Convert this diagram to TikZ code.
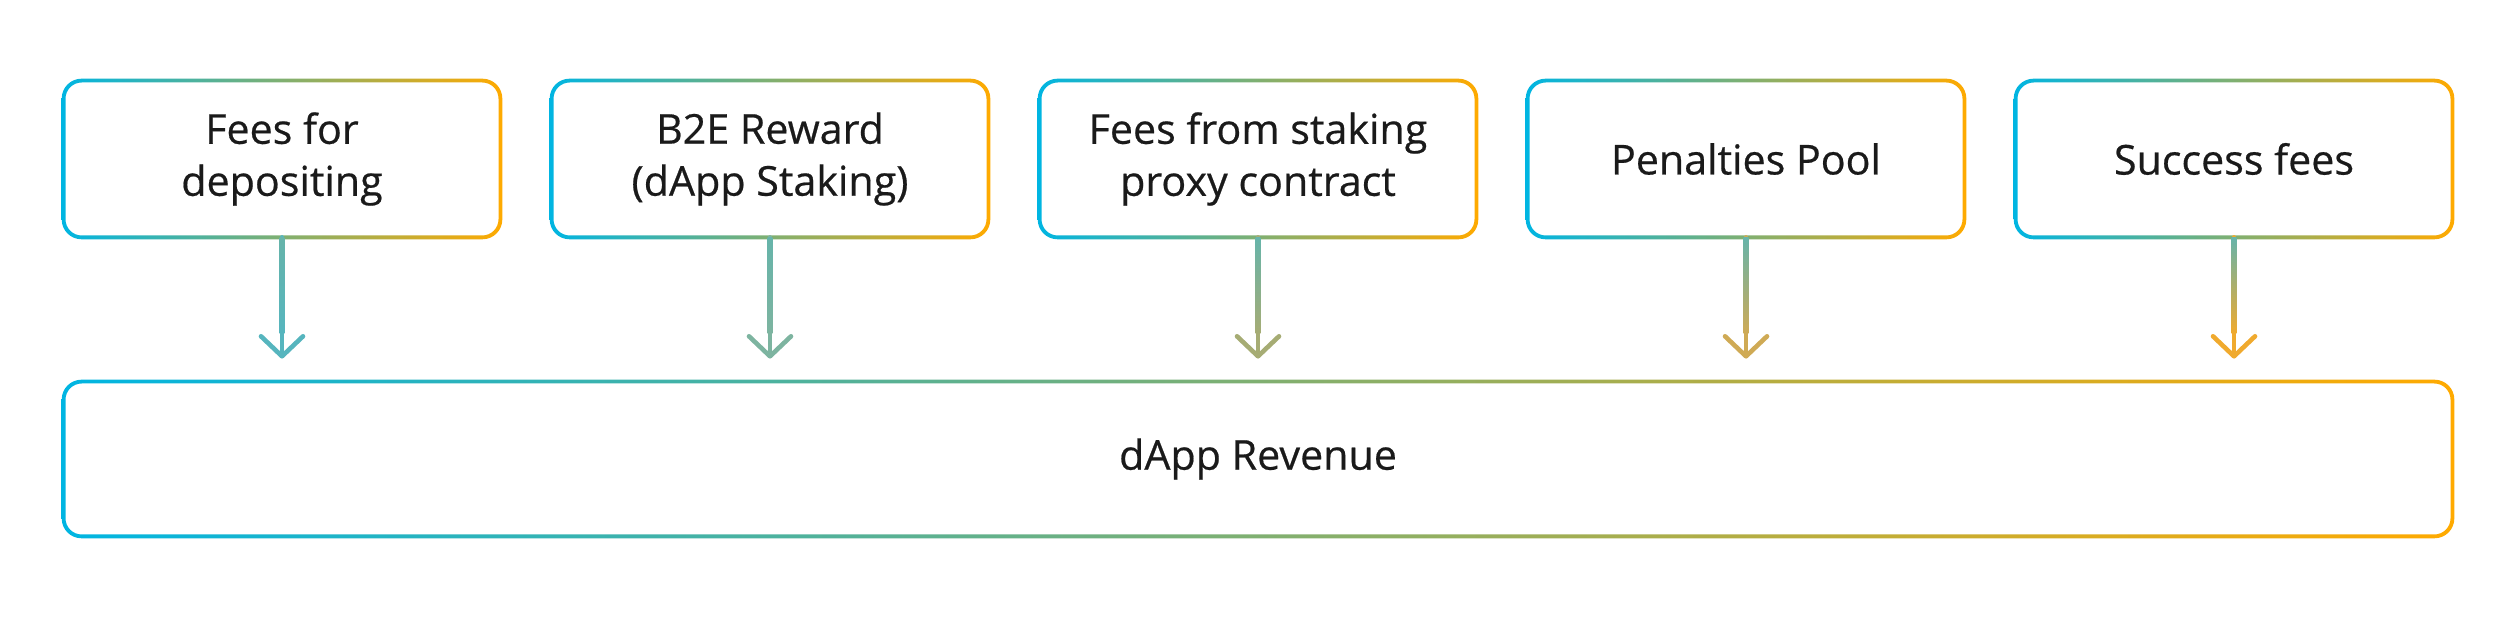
\documentclass[tikz,border=0pt]{standalone}
\usepackage{fontspec}
\setmainfont{Open Sans}[FakeBold=0.5]
\usetikzlibrary{arrows.meta}
\definecolor{dcyan}{HTML}{00B5E2}
\definecolor{dorange}{HTML}{FFAA00}
\definecolor{dteal}{HTML}{66B4AA}
\definecolor{dtext}{HTML}{1A1A1A}
\definecolor{tipa}{HTML}{56B5BE}
\definecolor{tipb}{HTML}{7DB4A0}
\definecolor{tipc}{HTML}{A6AC74}
\definecolor{tipd}{HTML}{CFAA55}
\definecolor{tipe}{HTML}{F0AA2E}
\begin{document}
\begin{tikzpicture}[x=1pt,y=1pt,line cap=round, line join=round,font=\fontsize{20.6}{26}\selectfont,
  src/.style={minimum width=218pt, minimum height=78pt, inner sep=0pt, align=center, text=dtext},
  flow/.style={line width=2.3pt, -{Straight Barb[length=10pt,width=21pt,round]}, shorten >=11.5pt}]
\useasboundingbox (0,0) rectangle (1258,310);
\def\w{0.95}
% sources
\foreach \t [count=\i, evaluate=\i as \x using 141+244*(\i-1)] in {{Fees for\\depositing},{B2E Reward\\(dApp Staking)},{Fees from staking\\proxy contract},{Penalties Pool},{Success fees}}
  \node[src] (s\i) at (\x,230.5) {\t};
\node[src, minimum width=1194pt, minimum height=77pt] (rev) at (629,80.5) {dApp Revenue};
% gradient frames
\foreach \n in {s1,s2,s3,s4,s5,rev}
  \shade[left color=dcyan, right color=dorange, even odd rule, rounded corners=9.9pt]
    ([shift={(-\w,-\w)}]\n.south west) rectangle ([shift={(\w,\w)}]\n.north east)
    [rounded corners=8.1pt] ([shift={(\w,\w)}]\n.south west) rectangle ([shift={(-\w,-\w)}]\n.north east);
% arrows, shaft shaded from teal to the tip colour
\foreach \i/\c in {1/tipa,2/tipb,3/tipc,4/tipd,5/tipe}{
  \draw[flow, draw=\c] (s\i) -- (s\i |- rev.north);
  \shade[top color=dteal, bottom color=\c] ([xshift=-1.15pt]s\i.south) rectangle ([xshift=1.15pt,yshift=24pt]s\i |- rev.north);
}
\end{tikzpicture}
\end{document}
